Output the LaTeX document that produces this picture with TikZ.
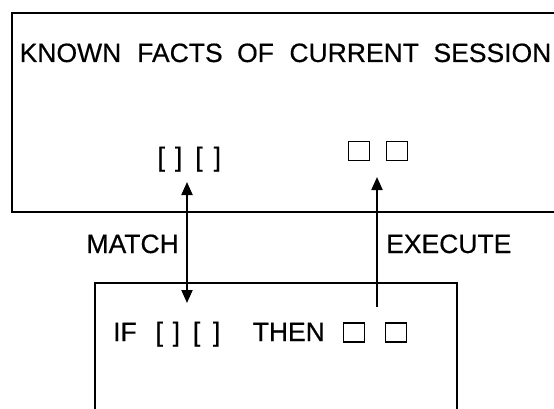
\documentclass[tikz,border=0pt]{standalone}
\usepackage{fontspec}
\setmainfont{Liberation Sans}[FakeBold=0.5]
\usetikzlibrary{arrows.meta}
\begin{document}
\begin{tikzpicture}[x=1pt,y=-1pt,
  box/.style={draw, line width=2pt, rectangle, inner sep=0pt},
  lbl/.style={inner sep=0pt, anchor=base west, font=\fontsize{26.5}{30}\selectfont},
  sq/.style={draw, line width=1.9pt, minimum width=21pt, minimum height=19pt, inner sep=0pt},
  tip/.tip={Triangle[width=11pt,length=13pt]},
  arr/.style={line width=2pt, -tip},
  dbl/.style={line width=2pt, tip-tip},
]
\useasboundingbox (0,0) rectangle (554,409);
\clip (0,0) rectangle (554,409);
% boxes (open at right / bottom, running past the frame)
\node[box, minimum width=560pt, minimum height=199pt] (facts) at (292,112.5) {};
\node[box, minimum width=362pt, minimum height=157pt] (rule) at (276,361.5) {};
% top box contents
\node[lbl] (title) at (19.5,62) {KNOWN\hspace{16pt}FACTS\hspace{14.5pt}OF\hspace{15.5pt}CURRENT\hspace{14.5pt}SESSION};
\node[lbl] (kb) at (157.4,166) {[\hspace{10pt}]\hspace{13pt}[\hspace{11pt}]};
\node[sq] (ks1) at (359,151) {};
\node[sq] (ks2) at (397,151) {};
% rule box contents
\node[lbl] (if) at (113,341) {IF};
\node[lbl] (rb) at (155.4,341) {[\hspace{9.7pt}]\hspace{12.9pt}[\hspace{12.7pt}]};
\node[lbl] (then) at (252.5,341) {THEN};
\node[sq] (rs1) at (354,332.5) {};
\node[sq] (rs2) at (396,332.5) {};
% labels
\node[lbl, anchor=base east] (match) at (179,253) {MATCH};
\node[lbl] (exec) at (386,253) {EXECUTE};
% connectors
\coordinate (mt) at (187,182);
\coordinate (mb) at (187,303);
\coordinate (eb) at (377,307);
\coordinate (et) at (377,177);
\draw[dbl] (mb) -- (mt);
\draw[arr] (eb) -- (et);
\end{tikzpicture}
\end{document}
